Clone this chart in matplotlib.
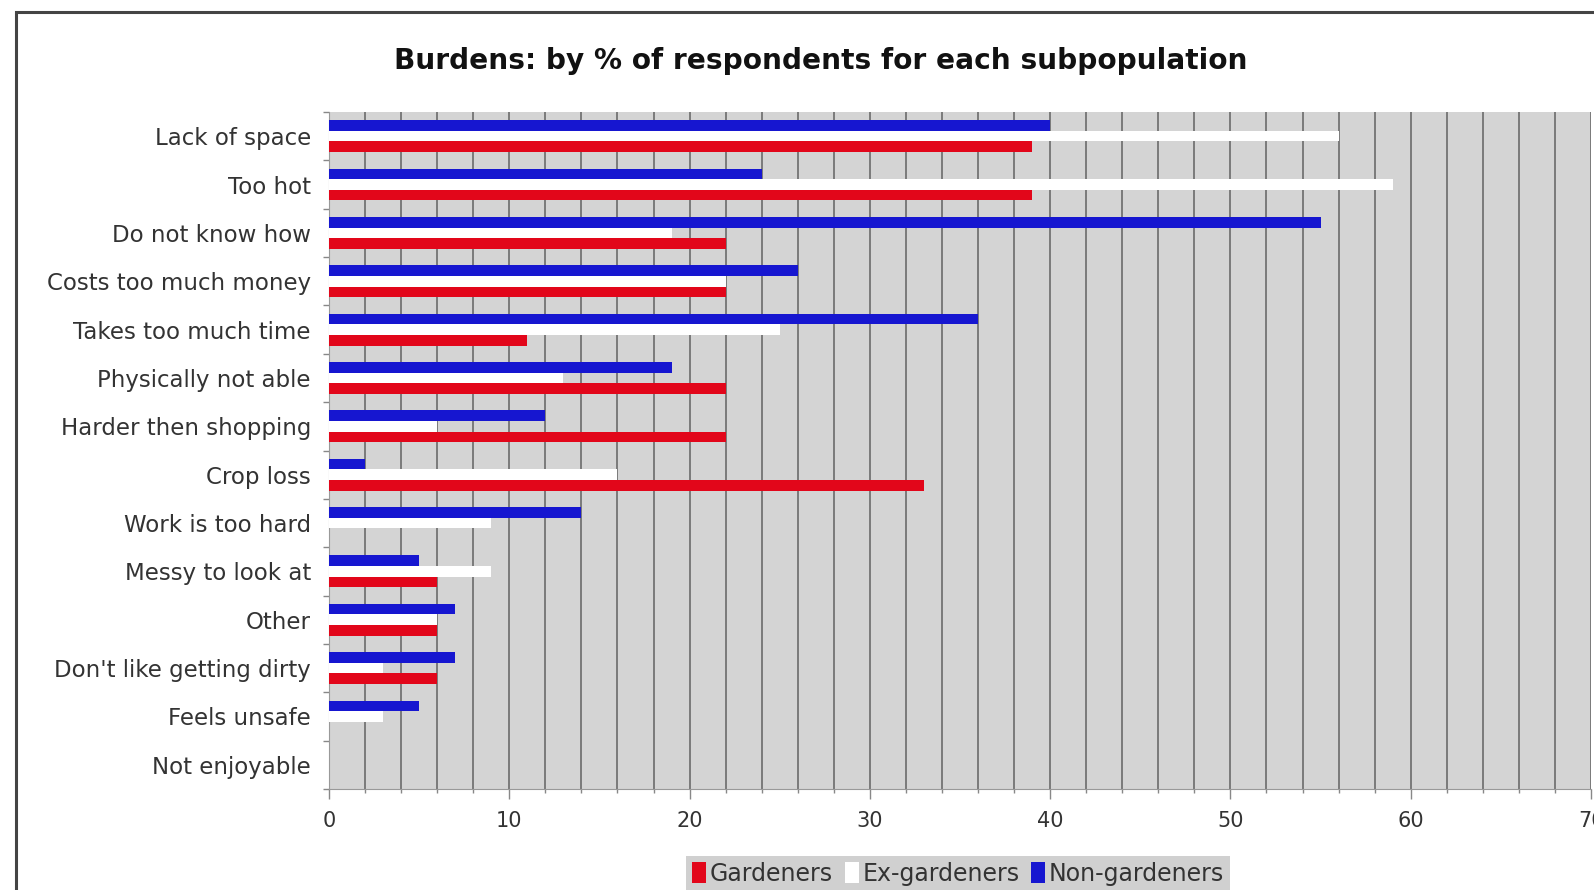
import numpy as np
import matplotlib
matplotlib.use('Agg')
import matplotlib.pyplot as plt
from matplotlib.patches import Rectangle, Patch

# data (% of respondents)
categories = ['Lack of space', 'Too hot', 'Do not know how', 'Costs too much money',
              'Takes too much time', 'Physically not able', 'Harder then shopping',
              'Crop loss', 'Work is too hard', 'Messy to look at', 'Other',
              "Don't like getting dirty", 'Feels unsafe', 'Not enjoyable']
gardeners = [39, 39, 22, 22, 11, 22, 22, 33, 0, 6, 6, 6, 0, 0]
ex_gardeners = [56, 59, 19, 22, 25, 13, 6, 16, 9, 9, 6, 3, 3, 0]
non_gardeners = [40, 24, 55, 26, 36, 19, 12, 2, 14, 5, 7, 7, 5, 0]

red = '#e2061a'
blue = '#1616d0'
txt = '#333333'

plt.rcParams['font.family'] = ['DejaVu Sans']

fig = plt.figure(figsize=(15.94, 8.90), dpi=100)
ax = fig.add_axes([329/1594, 1 - 789/890, (1591 - 329)/1594, (789 - 112)/890])
ax.set_facecolor('#d4d4d4')

y = np.arange(len(categories))
h = 0.22
ax.barh(y - h, non_gardeners, height=h, color=blue, zorder=3)
ax.barh(y, ex_gardeners, height=h, color='white', zorder=3)
ax.barh(y + h, gardeners, height=h, color=red, zorder=3)

ax.set_xlim(0, 70)
ax.set_ylim(len(categories) - 0.5, -0.5)

# vertical grid every 2 units
ax.set_xticks(np.arange(0, 71, 10))
ax.set_xticks(np.arange(0, 71, 2), minor=True)
ax.xaxis.grid(True, which='both', color='#7a7a7a', lw=1.4, zorder=1)
ax.tick_params(axis='x', which='major', length=7, width=1, color='#888888',
               labelsize=15, labelcolor=txt, pad=9)
ax.tick_params(axis='x', which='minor', length=3, width=1, color='#888888')

# category labels at centres, tick marks at group boundaries
ax.set_yticks(y)
ax.set_yticklabels(categories)
ax.set_yticks(np.arange(len(categories) + 1) - 0.5, minor=True)
ax.tick_params(axis='y', which='major', length=0, pad=13, labelsize=16.5, labelcolor=txt)
ax.tick_params(axis='y', which='minor', length=4, width=1, color='#888888')

for s in ['top', 'right']:
    ax.spines[s].set_visible(False)
ax.spines['left'].set_color('#999999')
ax.spines['bottom'].set_color('#999999')

fig.text(821/1594, 1 - 61/890, 'Burdens: by % of respondents for each subpopulation',
         ha='center', va='center', fontsize=20.2, fontweight='bold', color='#111111')

handles = [Patch(facecolor=red, edgecolor='none', label='Gardeners'),
           Patch(facecolor='white', edgecolor='none', label='Ex-gardeners'),
           Patch(facecolor=blue, edgecolor='none', label='Non-gardeners')]
leg = fig.legend(handles=handles, loc='upper center', bbox_to_anchor=(958/1594, 1 - 856/890),
                 ncol=3, frameon=True, fancybox=False, facecolor='#d0d0d0', edgecolor='none',
                 framealpha=1, fontsize=17, handlelength=0.6, handleheight=1.0,
                 handletextpad=0.15, columnspacing=0.5, borderpad=0.25, borderaxespad=0)
for t in leg.get_texts():
    t.set_color(txt)

# outer frame of the original chart (cut off at right and bottom)
fig.add_artist(Rectangle((15.5/1594, -0.05), 1.1, 1 - 12/890 + 0.05, transform=fig.transFigure,
                         fill=False, edgecolor='#444444', lw=2.2))

fig.savefig('out.png', dpi=100)
